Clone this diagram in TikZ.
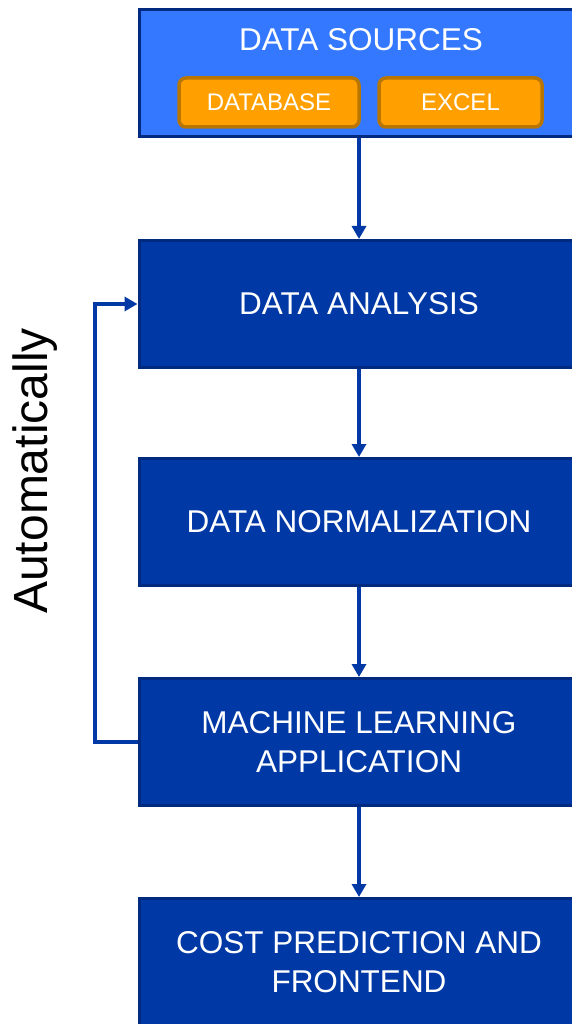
\documentclass[tikz,border=0pt]{standalone}
\usepackage{fontspec}
\setmainfont{Liberation Sans}
\usetikzlibrary{arrows.meta}
\definecolor{boxblue}{HTML}{0038A6}
\definecolor{boxedge}{HTML}{002A80}
\definecolor{srcblue}{HTML}{3478FF}
\definecolor{srcorange}{HTML}{FFA000}
\definecolor{srcedge}{HTML}{B87600}
\begin{document}
\begin{tikzpicture}[x=1pt,y=-1pt,
  stage/.style={draw=boxedge, fill=boxblue, line width=3pt, minimum width=440pt,
    minimum height=127pt, inner sep=0pt, text=white, align=center,
    font=\fontsize{31.5}{39}\selectfont},
  source/.style={draw=srcedge, fill=srcorange, line width=3.5pt, rounded corners=7pt,
    minimum height=49pt, inner sep=0pt, text=white, font=\fontsize{24}{28}\selectfont},
  flow/.style={draw=boxblue, line width=3.5pt, -{Triangle[length=13pt,width=14pt]}}]
\useasboundingbox (0,0) rectangle (572,1024);
\clip (0,0) rectangle (572,1024);

% data sources panel with its two inputs
\node[stage, fill=srcblue] (src) at (359,73.5) {};
\node[text=white, font=\fontsize{31.5}{36}\selectfont] (srctitle) at (361,40) {DATA SOURCES};
\node[source, minimum width=180pt] (db) at (269,102.5) {DATABASE};
\node[source, minimum width=163pt] (xl) at (460.5,102.5) {EXCEL};

% processing stages
\node[stage] (ana) at (359,304) {DATA ANALYSIS};
\node[stage] (norm) at (359,522) {DATA NORMALIZATION};
\node[stage] (ml) at (359,742) {MACHINE LEARNING\\APPLICATION};
\node[stage] (cost) at (359,962) {COST PREDICTION AND\\FRONTEND};

% vertical flow
\draw[flow] (src.south) -- (ana.north);
\draw[flow] (ana.south) -- (norm.north);
\draw[flow] (norm.south) -- (ml.north);
\draw[flow] (ml.south) -- (cost.north);

% feedback loop
\coordinate (loop) at (95,742);
\draw[flow] (ml.west) -- (loop) |- (ana.west);
\node[rotate=90, font=\fontsize{48}{52}\selectfont] (auto) at (35,471) {Automatically};
\end{tikzpicture}
\end{document}
